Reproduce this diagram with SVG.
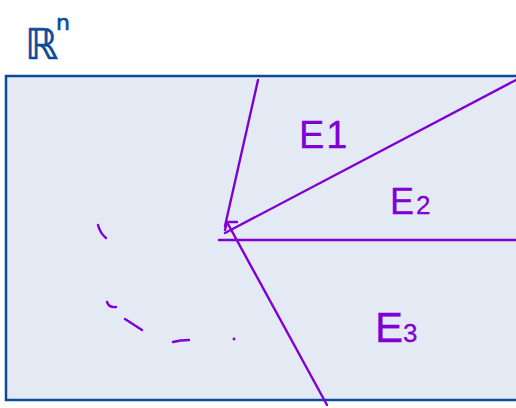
<svg xmlns="http://www.w3.org/2000/svg" width="516" height="408" viewBox="0 0 516 408">
<style>
.ln{stroke:#8000d4;stroke-width:2.4;fill:none;stroke-linecap:round;stroke-linejoin:round}
.lbl{font-family:"Liberation Sans",Arial,sans-serif;fill:#8000d4;stroke:#8000d4;stroke-width:0.3}
.rn{font-family:"DejaVu Sans","Liberation Sans",sans-serif;fill:#0b4a9a;stroke:#0b4a9a;stroke-width:0.6}
</style>
<rect width="516" height="408" fill="#ffffff"/>
<g id="space">
<rect x="6" y="76" width="520" height="324" fill="#e4eaf4" stroke="#0b4a9a" stroke-width="2.5"/>
</g>
<g id="title">
<text class="rn" x="25" y="59" font-size="42">ℝ</text>
<text class="rn" x="56" y="30" font-size="22">n</text>
</g>
<g id="connectors">
<line class="ln" x1="258" y1="80" x2="225" y2="226"/>
<line class="ln" x1="225" y1="233" x2="516" y2="80"/>
<line class="ln" x1="219" y1="240" x2="516" y2="240"/>
<line class="ln" x1="327" y1="405" x2="228" y2="224"/>
<path class="ln" d="M237,222 L227,222 L225,230"/>
<path class="ln" d="M98,225 Q100,233 106,238"/>
<path class="ln" d="M107,302 Q109,308 116,307"/>
<line class="ln" x1="125" y1="319" x2="142" y2="330"/>
<path class="ln" d="M173,342 Q180,340 189,340"/>
<circle cx="234" cy="339" r="1.4" fill="#8000d4"/>
</g>
<g id="E1"><text class="lbl" x="299" y="148" font-size="38" letter-spacing="2">E1</text></g>
<g id="E2"><text class="lbl" x="390" y="214" font-size="36">E<tspan font-size="26" dx="2">2</tspan></text></g>
<g id="E3"><text class="lbl" x="375" y="342" font-size="42">E<tspan font-size="26">3</tspan></text></g>
</svg>
